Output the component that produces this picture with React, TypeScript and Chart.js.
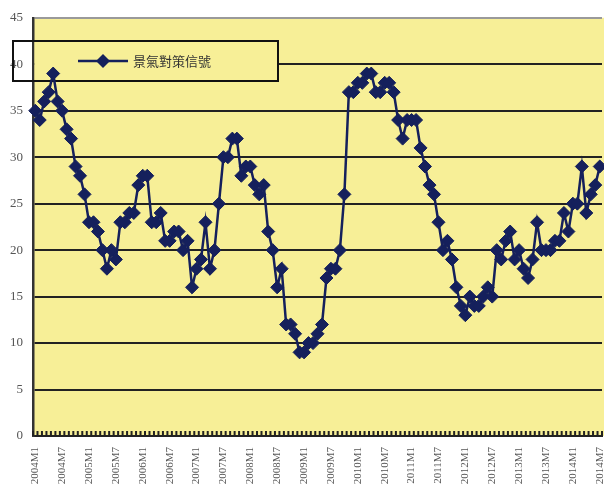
import React, { useEffect, useRef } from 'react';
import { Chart, registerables } from 'chart.js';

Chart.register(...registerables);

const SERIES_LABEL = '景氣對策信號';
const START_YEAR = 2004;

const scores2004 = [35, 34, 36, 37, 39, 36, 35, 33, 32, 29, 28, 26];
const scores2005 = [23, 23, 22, 20, 18, 20, 19, 23, 23, 24, 24, 27];
const scores2006 = [28, 28, 23, 23, 24, 21, 21, 22, 22, 20, 21, 16];
const scores2007 = [18, 19, 23, 18, 20, 25, 30, 30, 32, 32, 28, 29];
const scores2008 = [29, 27, 26, 27, 22, 20, 16, 18, 12, 12, 11, 9];
const scores2009 = [9, 10, 10, 11, 12, 17, 18, 18, 20, 26, 37, 37];
const scores2010 = [38, 38, 39, 39, 37, 37, 38, 38, 37, 34, 32, 34];
const scores2011 = [34, 34, 31, 29, 27, 26, 23, 20, 21, 19, 16, 14];
const scores2012 = [13, 15, 14, 14, 15, 16, 15, 20, 19, 21, 22, 19];
const scores2013 = [20, 18, 17, 19, 23, 20, 20, 20, 21, 21, 24, 22];
const scores2014 = [25, 25, 29, 24, 26, 27, 29];

const scores = [
  ...scores2004, ...scores2005, ...scores2006, ...scores2007, ...scores2008,
  ...scores2009, ...scores2010, ...scores2011, ...scores2012, ...scores2013, ...scores2014,
];

// category labels: 2004M1, 2004M2, ...
const categories: string[] = scores.map((_, i) => `${START_YEAR + Math.floor(i / 12)}M${(i % 12) + 1}`);
const LABEL_EVERY = 6;

const Y_MIN = 0;
const Y_MAX = 45;
const Y_STEP = 5;

const PLOT_BG = '#F7EF97';
const LINE_COLOR = '#15205C';

const backgroundPlugin = {
  id: 'plotBg',
  beforeDraw(chart: any) {
    const { ctx, chartArea } = chart;
    ctx.save();
    ctx.fillStyle = PLOT_BG;
    ctx.fillRect(chartArea.left, chartArea.top, chart.width - chartArea.left, chartArea.bottom - chartArea.top);
    ctx.restore();
  },
};

const combPlugin = {
  id: 'comb',
  beforeDatasetsDraw(chart: any) {
    const { ctx, chartArea } = chart;
    const xs = chart.scales.x;
    const n = categories.length;
    const x0 = xs.getPixelForValue(0);
    const w = xs.getPixelForValue(1) - x0;
    ctx.save();
    ctx.strokeStyle = '#222';
    ctx.lineWidth = 2;
    ctx.beginPath();
    for (let i = 0; i <= n; i++) {
      const x = x0 + (i - 0.5) * w;
      ctx.moveTo(x, chartArea.bottom - 5);
      ctx.lineTo(x, chartArea.bottom);
    }
    ctx.stroke();
    ctx.restore();
  },
};

const legendPlugin = {
  id: 'boxLegend',
  beforeDatasetsDraw(chart: any) {
    const { ctx, chartArea } = chart;
    const bx = 13, by = 41, bw = 265, bh = 40;
    ctx.save();
    ctx.fillStyle = PLOT_BG;
    ctx.fillRect(chartArea.left + 1.5, by, bx + bw - chartArea.left - 1.5, bh);
    ctx.strokeStyle = '#111';
    ctx.lineWidth = 2;
    ctx.strokeRect(bx, by, bw, bh);
    const cy = by + bh / 2;
    ctx.strokeStyle = LINE_COLOR;
    ctx.lineWidth = 2.5;
    ctx.beginPath();
    ctx.moveTo(78, cy);
    ctx.lineTo(128, cy);
    ctx.stroke();
    ctx.fillStyle = LINE_COLOR;
    ctx.beginPath();
    ctx.moveTo(103, cy - 7);
    ctx.lineTo(110, cy);
    ctx.lineTo(103, cy + 7);
    ctx.lineTo(96, cy);
    ctx.closePath();
    ctx.fill();
    ctx.fillStyle = '#333';
    ctx.font = '13px "Noto Sans CJK TC"';
    ctx.textBaseline = 'middle';
    ctx.textAlign = 'left';
    ctx.fillText(chart.data.datasets[0].label, 133, cy);
    ctx.restore();
  },
};

export default function App() {
  const ref = useRef<HTMLCanvasElement>(null);
  useEffect(() => {
    const chart = new Chart(ref.current!, {
      type: 'line',
      data: {
        labels: categories,
        datasets: [
          {
            label: SERIES_LABEL,
            data: scores,
            borderColor: LINE_COLOR,
            backgroundColor: LINE_COLOR,
            borderWidth: 2.5,
            pointStyle: 'rectRot',
            pointRadius: 6.5,
            pointBorderWidth: 1,
            pointBackgroundColor: LINE_COLOR,
            pointBorderColor: LINE_COLOR,
            tension: 0,
            fill: false,
          },
        ],
      },
      options: {
        responsive: false,
        animation: false,
        layout: { autoPadding: false, padding: { top: 16, right: 2, left: 0, bottom: 0 } },
        plugins: {
          legend: { display: false },
          tooltip: { enabled: false },
        },
        scales: {
          x: {
            type: 'category',
            offset: true,
            grid: { display: true, drawOnChartArea: false, drawTicks: false },
            border: { display: true, color: '#222', width: 2 },
            ticks: {
              autoSkip: false,
              minRotation: 90,
              maxRotation: 90,
              padding: 11,
              color: '#555',
              font: { family: '"Liberation Serif"', size: 11 },
              callback: (_v: any, i: number) => (i % LABEL_EVERY === 0 ? categories[i] : ''),
            },
            afterFit: (s: any) => {
              s.height = 50;
              s.paddingLeft = 0;
              s.paddingRight = 0;
            },
          },
          y: {
            min: Y_MIN,
            max: Y_MAX,
            ticks: {
              stepSize: Y_STEP,
              padding: 10,
              color: '#555',
              font: { family: '"Liberation Serif"', size: 13 },
            },
            grid: {
              drawTicks: false,
              color: (c: any) => (c.tick && c.tick.value === Y_MAX ? '#9a9a9a' : '#222'),
              lineWidth: 2,
            },
            border: { display: true, color: '#333', width: 2.5 },
            afterFit: (s: any) => {
              s.width = 33;
            },
          },
        },
      },
      plugins: [backgroundPlugin, combPlugin, legendPlugin],
    });
    return () => chart.destroy();
  }, []);
  return (
    <div style={{ position: 'absolute', left: 0, top: 0, width: 604, height: 486, background: '#fff' }}>
      <canvas ref={ref} width={604} height={486} />
    </div>
  );
}
